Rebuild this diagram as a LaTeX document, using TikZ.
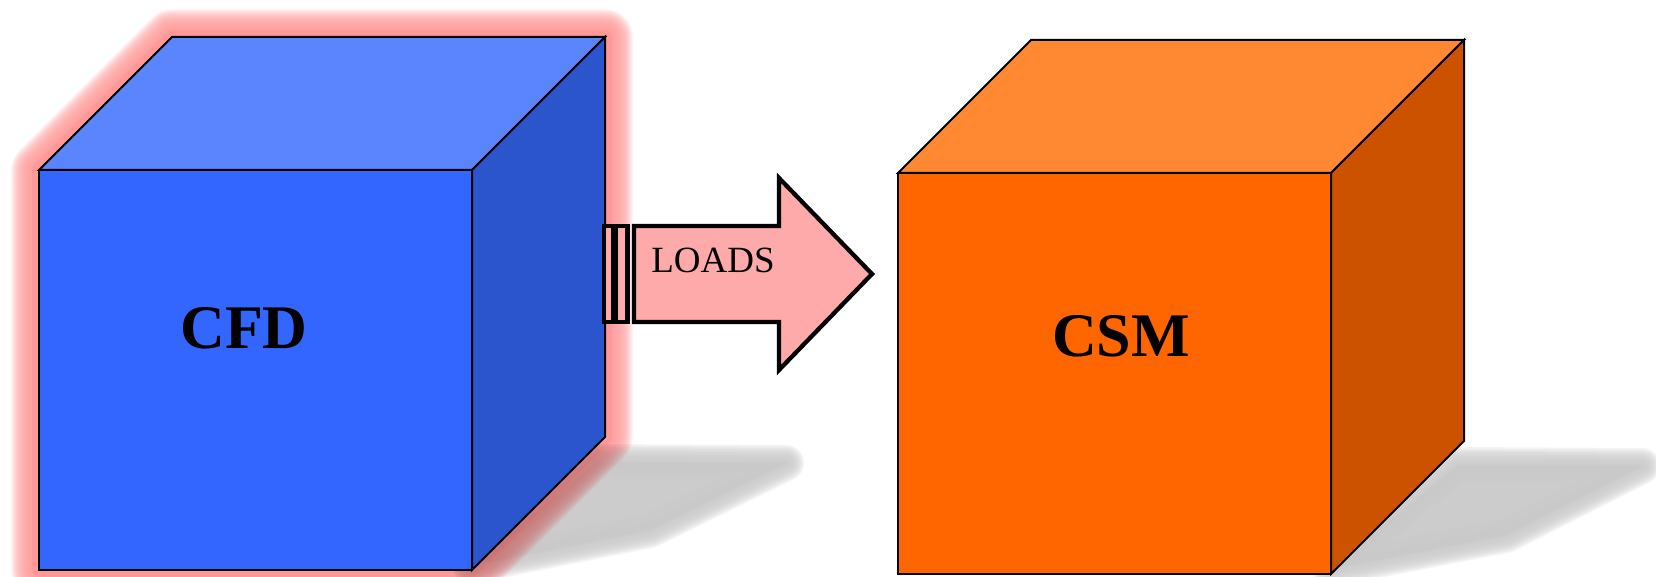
\documentclass[tikz,border=0pt]{standalone}
\usepackage{fontspec}
\setmainfont{Liberation Serif}
\usetikzlibrary{calc}

\definecolor{cfdfront}{HTML}{3366FF}
\definecolor{cfdtop}{HTML}{5B85FF}
\definecolor{cfdside}{HTML}{2A55CC}
\definecolor{csmfront}{HTML}{FF6600}
\definecolor{csmtop}{HTML}{FF8833}
\definecolor{csmside}{HTML}{CC5200}
\definecolor{glowred}{HTML}{FF9999}
\definecolor{loadpink}{HTML}{FFAAAA}

% solid block: #1 name, #2 left, #3 top, #4 right, #5 bottom of the front face,
% #6 front colour, #7 top colour, #8 side colour; depth 133 up and right
\newcommand\solidblock[8]{%
  \coordinate (#1-flt) at (#2,#3);
  \coordinate (#1-frt) at (#4,#3);
  \coordinate (#1-frb) at (#4,#5);
  \coordinate (#1-flb) at (#2,#5);
  \coordinate (#1-blt) at ($(#1-flt)+(133,-133)$);
  \coordinate (#1-brt) at ($(#1-frt)+(133,-133)$);
  \coordinate (#1-brb) at ($(#1-frb)+(133,-133)$);
  \filldraw[edge,fill=#6] (#1-flt) rectangle (#1-frb);
  \filldraw[edge,fill=#7] (#1-flt) -- (#1-blt) -- (#1-brt) -- (#1-frt) -- cycle;
  \filldraw[edge,fill=#8] (#1-frt) -- (#1-brt) -- (#1-brb) -- (#1-frb) -- cycle;
}

\begin{document}
\begin{tikzpicture}[x=1bp,y=-1bp,
  edge/.style={draw=black,line width=2bp,line join=miter},
  halo/.style={draw=glowred,line join=round},
  shade/.style={fill=black,draw=black,line join=round,opacity=0.2},
  loadbar/.style={draw=black,fill=loadpink,line width=4.3bp,line join=miter},
  title/.style={font=\fontsize{62bp}{62bp}\selectfont\bfseries,anchor=base,inner sep=0pt},
  label/.style={font=\fontsize{37bp}{37bp}\selectfont,anchor=base,inner sep=0pt}]
\useasboundingbox (0,0) rectangle (1656,577);

% soft red halo round the CFD block
\coordinate (h1) at (39,170);
\coordinate (h2) at (172,37);
\coordinate (h3) at (605,37);
\coordinate (h4) at (605,437);
\coordinate (h5) at (472,570);
\coordinate (h6) at (39,570);
\foreach \w in {56,55,...,15}
  \draw[halo,line width=\w bp,opacity=0.06] (h1) -- (h2) -- (h3) -- (h4) -- (h5) -- (h6) -- cycle;
\draw[halo,line width=14bp] (h1) -- (h2) -- (h3) -- (h4) -- (h5) -- (h6) -- cycle;

% ground shadows, softened by stacked strokes
\begin{scope}[transparency group,opacity=0.21]
  \foreach \w in {0,3,...,36}
    \filldraw[shade,line width=\w bp] (470,566) -- (650,530) -- (786,463) -- (598,462) -- cycle;
\end{scope}
\begin{scope}[transparency group,opacity=0.21]
  \foreach \w in {0,3,...,36}
    \filldraw[shade,line width=\w bp] (1330,569) -- (1506,535) -- (1642,466) -- (1458,465) -- cycle;
\end{scope}

% the two blocks
\solidblock{cfd}{39}{170}{472}{570}{cfdfront}{cfdtop}{cfdside}
\solidblock{csm}{898}{173}{1331}{574}{csmfront}{csmtop}{csmside}

% striped block arrow
\draw[loadbar] (604,226) rectangle (613.5,322);
\draw[loadbar] (615.5,226) rectangle (627.5,322);
\draw[loadbar] (634,226) -- (779,226) -- (779,178) -- (872,274) -- (779,370)
  -- (779,322) -- (634,322) -- cycle;

\node[title] (cfd) at (244,348) {CFD};
\node[title] (csm) at (1121,356) {CSM};
\node[label] (loads) at (713,272) {LOADS};
\end{tikzpicture}
\end{document}
